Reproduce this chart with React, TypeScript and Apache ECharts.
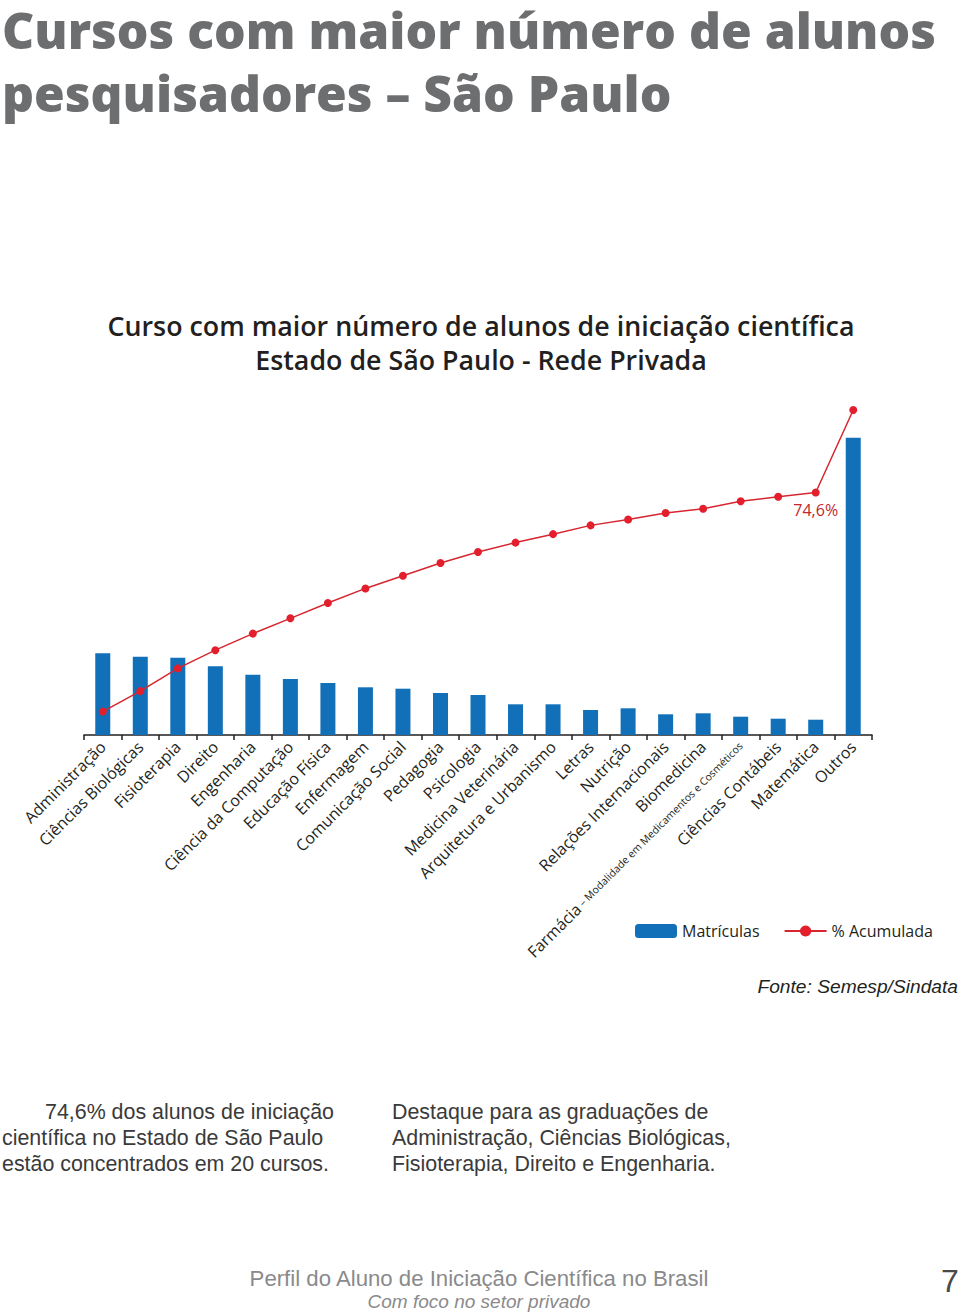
import React, { useEffect, useRef } from "react";
import * as echarts from "echarts";

const categories = [
  "Administração",
  "Ciências Biológicas",
  "Fisioterapia",
  "Direito",
  "Engenharia",
  "Ciência da Computação",
  "Educação Física",
  "Enfermagem",
  "Comunicação Social",
  "Pedagogia",
  "Psicologia",
  "Medicina Veterinária",
  "Arquitetura e Urbanismo",
  "Letras",
  "Nutrição",
  "Relações Internacionais",
  "Biomedicina",
  "Farmácia – Modalidade em Medicamentos e Cosméticos",
  "Ciências Contábeis",
  "Matemática",
  "Outros",
];

const matriculas = [
  81.7, 78.3, 77.3, 68.7, 60.3, 56, 52, 47.7, 46.3, 42, 40, 30.7, 30.7, 25, 26.7,
  20.7, 21.7, 18.3, 16.3, 15.3, 297.3,
];

const acumulada = [
  7.2, 13.5, 20.5, 26.1, 31.2, 35.9, 40.6, 45.1, 49.0, 52.9, 56.3, 59.2, 61.8,
  64.5, 66.3, 68.3, 69.6, 71.9, 73.3, 74.6, 100,
];

const labelIndex = 19;
const labelText = "74,6%";

const FONT = "'Open Sans', 'Noto Sans', sans-serif";
const HELV = "'Liberation Sans', Arial, sans-serif";

export default function App() {
  const ref = useRef<HTMLDivElement>(null);

  useEffect(() => {
    if (!ref.current) return;
    const chart = echarts.init(ref.current, null, { renderer: "svg" });
    const text = (
      t: string,
      x: number,
      y: number,
      size: number,
      fill: string,
      opts: any = {}
    ) => ({
      type: "text",
      x,
      y,
      style: {
        text: t,
        fontSize: size,
        fontFamily: opts.family || HELV,
        fontWeight: opts.weight || "normal",
        fontStyle: opts.style || "normal",
        lineHeight: opts.lineHeight || undefined,
        fill,
        textAlign: opts.align || "left",
        textVerticalAlign: "middle",
      },
    });

    chart.setOption({
      animation: false,
      backgroundColor: "#ffffff",
      grid: { left: 84, right: 88, top: 410, bottom: 577, containLabel: false },
      legend: {
        left: 630,
        top: 918,
        itemWidth: 42,
        itemHeight: 14,
        itemGap: 24,
        textStyle: { fontSize: 16, color: "#231F20", fontFamily: FONT },
        data: ["Matrículas", "% Acumulada"],
      },
      xAxis: {
        type: "category",
        data: categories,
        boundaryGap: true,
        axisLine: { lineStyle: { color: "#231F20", width: 1.5 } },
        axisTick: { show: true, length: 5, lineStyle: { color: "#231F20", width: 1.5 } },
        axisLabel: {
          rotate: 45,
          interval: 0,
          margin: 9,
          color: "#231F20",
          fontSize: 16,
          fontFamily: FONT,
          formatter: (v: string) => {
            const i = v.indexOf(" – ");
            if (i > 0) {
              return "{a|" + v.slice(0, i) + "}{b|" + v.slice(i) + "}";
            }
            return v;
          },
          rich: {
            a: { fontSize: 16, fontFamily: FONT, color: "#231F20" },
            b: {
              fontSize: 10.5,
              fontFamily: "'Liberation Sans Narrow', " + FONT,
              color: "#231F20",
            },
          },
        },
      },
      yAxis: [
        { type: "value", min: 0, max: 325, show: false },
        { type: "value", min: 0, max: 100, show: false },
      ],
      series: [
        {
          name: "Matrículas",
          type: "bar",
          yAxisIndex: 0,
          barWidth: 15,
          itemStyle: { color: "#1170B8" },
          data: matriculas,
        },
        {
          name: "% Acumulada",
          type: "line",
          yAxisIndex: 1,
          symbol: "circle",
          symbolSize: 8,
          itemStyle: { color: "#E31E2D" },
          lineStyle: { color: "#D7262F", width: 1.5 },
          data: acumulada.map((v, i) =>
            i === labelIndex
              ? {
                  value: v,
                  label: {
                    show: true,
                    position: "bottom",
                    distance: 5,
                    formatter: labelText,
                    color: "#C1272D",
                    fontSize: 16,
                    fontFamily: FONT,
                  },
                }
              : v
          ),
        },
      ],
      graphic: [
        text("Cursos com maior número de alunos", 2, 30, 49.8, "#6D6E70", {
          family: FONT,
          weight: 800,
          lineHeight: 46,
        }),
        text("pesquisadores – São Paulo", 2, 93, 49.8, "#6D6E70", {
          family: FONT,
          weight: 800,
          lineHeight: 46,
        }),
        text(
          "Curso com maior número de alunos de iniciação científica",
          481,
          325,
          26.8,
          "#231F20",
          { family: FONT, weight: 600, align: "center" }
        ),
        text("Estado de São Paulo - Rede Privada", 481, 359, 26.8, "#231F20", {
          family: FONT,
          weight: 600,
          align: "center",
        }),
        text("Fonte: Semesp/Sindata", 958, 986, 19.2, "#231F20", {
          style: "italic",
          align: "right",
        }),
        text("74,6% dos alunos de iniciação", 45, 1112, 21.4, "#3A3A3A"),
        text("científica no Estado de São Paulo", 2, 1138, 21.4, "#3A3A3A"),
        text("estão concentrados em 20 cursos.", 2, 1164, 21.4, "#3A3A3A"),
        text("Destaque para as graduações de", 392, 1112, 21.4, "#3A3A3A"),
        text("Administração, Ciências Biológicas,", 392, 1138, 21.4, "#3A3A3A"),
        text("Fisioterapia, Direito e Engenharia.", 392, 1164, 21.4, "#3A3A3A"),
        text("Perfil do Aluno de Iniciação Científica no Brasil", 479, 1278, 22.2, "#8A8A8C", {
          align: "center",
        }),
        text("Com foco no setor privado", 479, 1301, 19, "#8A8A8C", {
          align: "center",
          style: "italic",
        }),
        text("7", 950, 1281, 32, "#4A4A4A", { align: "center" }),
      ],
    });
    return () => chart.dispose();
  }, []);

  return (
    <div
      ref={ref}
      style={{ position: "absolute", left: 0, top: 0, width: 960, height: 1312 }}
    />
  );
}
